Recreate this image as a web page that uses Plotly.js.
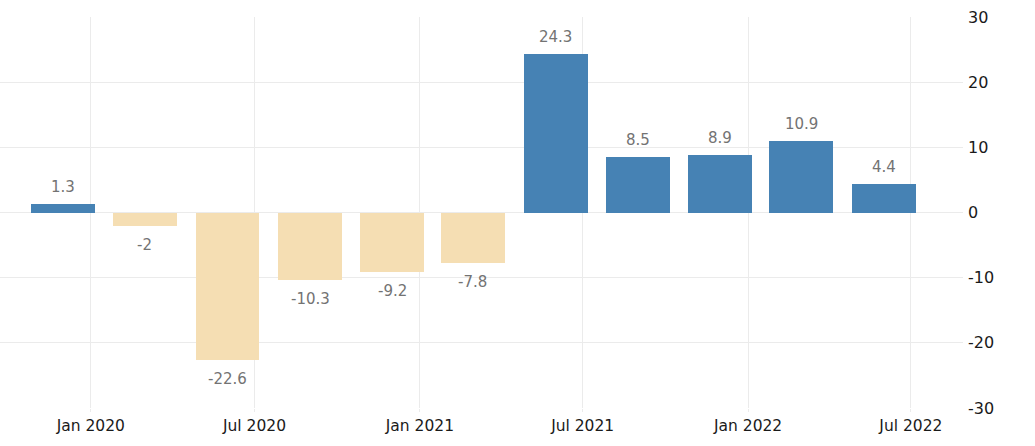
<!DOCTYPE html>
<html>
<head>
<meta charset="utf-8">
<script src="https://cdn.plot.ly/plotly-3.0.1.min.js"></script>
<style>html,body{margin:0;padding:0;background:#fff;}#chart{width:1035px;height:446px;}</style>
</head>
<body>
<div id="chart"></div>
<script>
const dates = ["2019-12-01","2020-03-01","2020-06-01","2020-09-01","2020-12-01","2021-03-01","2021-06-01","2021-09-01","2021-12-01","2022-03-01","2022-06-01"];
const values = [1.3, -2, -22.6, -10.3, -9.2, -7.8, 24.3, 8.5, 8.9, 10.9, 4.4];
const labels = ["1.3","-2","-22.6","-10.3","-9.2","-7.8","24.3","8.5","8.9","10.9","4.4"];
const xTickVals = ["2020-01-01","2020-07-01","2021-01-01","2021-07-01","2022-01-01","2022-07-01"];
const xTickText = ["Jan 2020","Jul 2020","Jan 2021","Jul 2021","Jan 2022","Jul 2022"];
const yTickVals = [-30,-20,-10,0,10,20,30];
const yTickText = ["-30","-20","-10","0","10","20","30"];

const posColor = "#4682B4", negColor = "#F5DEB3";
const DAY = 86400000;

const trace = {
  type: "bar",
  x: dates,
  y: values,
  width: dates.map(() => 71 * DAY),
  marker: {color: values.map(v => v >= 0 ? posColor : negColor)},
  hoverinfo: "x+y"
};

const annotations = dates.map((d, i) => ({
  x: d, y: values[i], xref: "x", yref: "y",
  text: labels[i], showarrow: false,
  yanchor: values[i] >= 0 ? "bottom" : "top",
  yshift: values[i] >= 0 ? 6 : -8,
  font: {family: "DejaVu Sans, sans-serif", size: 15, color: "#737373"}
}));

const layout = {
  width: 1035, height: 446,
  margin: {l: 0, r: 72, t: 17, b: 38},
  paper_bgcolor: "#fff", plot_bgcolor: "#fff",
  showlegend: false,
  bargap: 0,
  xaxis: {
    type: "date",
    range: ["2019-09-22", "2022-08-28"],
    tickmode: "array", tickvals: xTickVals, ticktext: xTickText,
    showgrid: true, gridcolor: "#ebebeb", gridwidth: 1,
    zeroline: false, showline: false,
    ticks: "outside", ticklen: 3, tickcolor: "#ebebeb",
    tickfont: {family: "DejaVu Sans, sans-serif", size: 15.5, color: "#1a1a1a"},
    fixedrange: true
  },
  yaxis: {
    side: "right",
    range: [-30, 30],
    tickmode: "array", tickvals: yTickVals, ticktext: yTickText,
    showgrid: true, gridcolor: "#ebebeb", gridwidth: 1,
    zeroline: true, zerolinecolor: "#ebebeb", zerolinewidth: 1,
    showline: false,
    ticks: "", ticklabelstandoff: 4,
    tickfont: {family: "DejaVu Sans, sans-serif", size: 16, color: "#1a1a1a"},
    fixedrange: true
  },
  annotations: annotations
};

Plotly.newPlot("chart", [trace], layout, {displayModeBar: false, staticPlot: true});
</script>
</body>
</html>
